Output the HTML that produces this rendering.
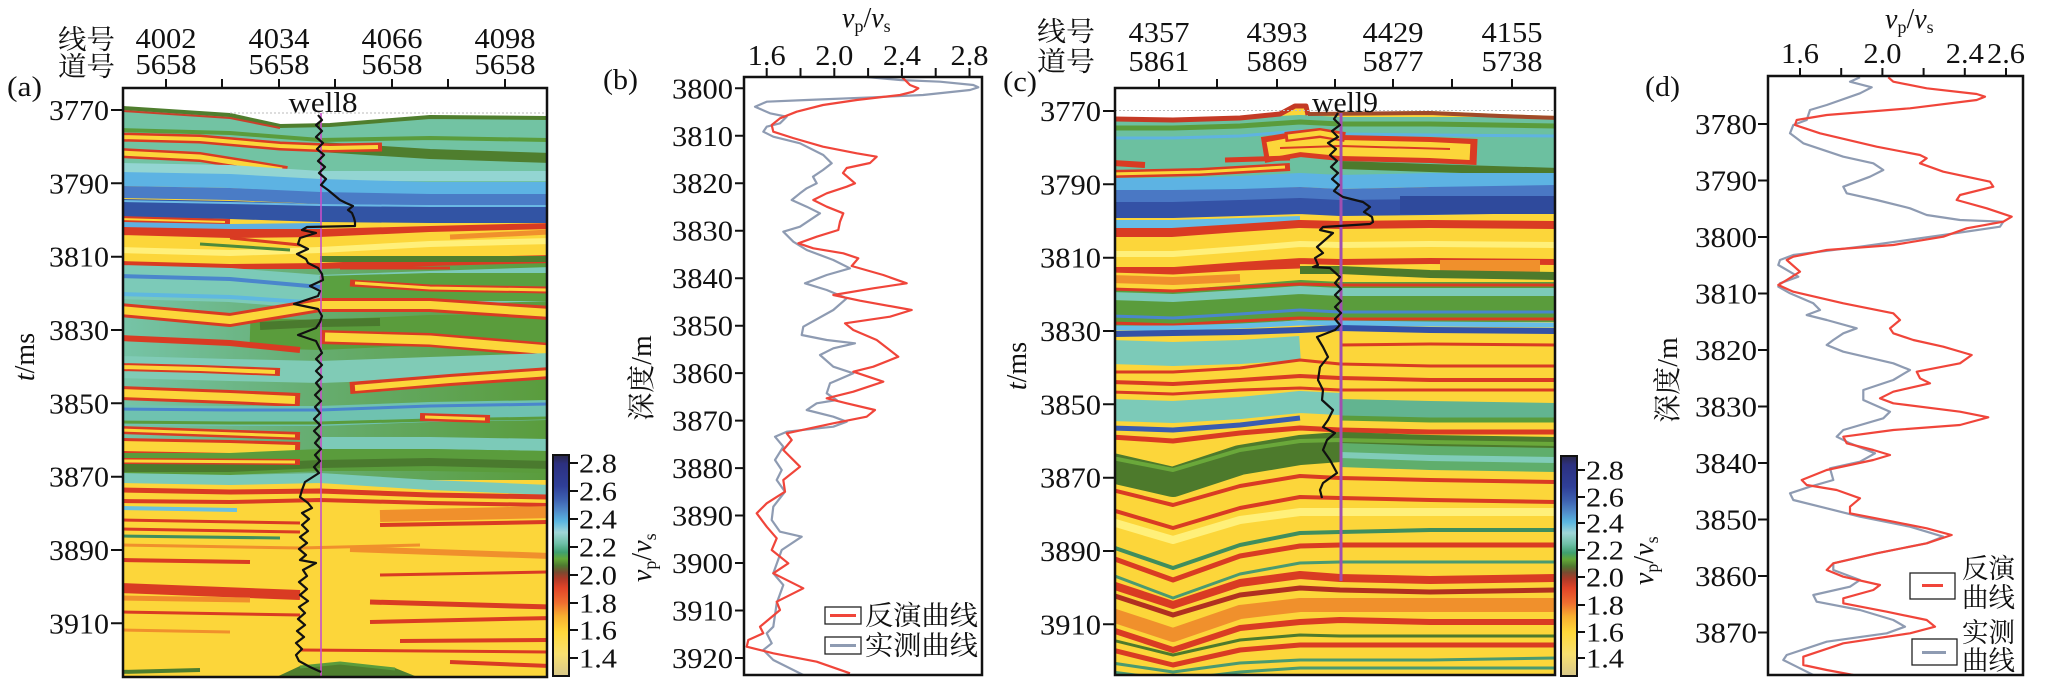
<!DOCTYPE html>
<html><head><meta charset="utf-8"><style>
html,body{margin:0;padding:0;background:#fff;}
svg{display:block;}
text{font-family:"Liberation Serif","Noto Serif CJK SC",serif;fill:#111;}
polyline{fill:none;stroke-linejoin:round;}
.tk{stroke:#111;stroke-width:2;}
.bd{fill:none;stroke:#111;stroke-width:2.5;}
</style></head><body>
<svg width="2067" height="683" viewBox="0 0 2067 683" xmlns="http://www.w3.org/2000/svg">
<defs>
<clipPath id="cA"><rect x="123" y="88" width="424" height="589"/></clipPath>
<clipPath id="cB"><rect x="744" y="77" width="238" height="598"/></clipPath>
<clipPath id="cC"><rect x="1115" y="88" width="440" height="587"/></clipPath>
<clipPath id="cD"><rect x="1768" y="76" width="255" height="599"/></clipPath>
<linearGradient id="cb" x1="0" y1="0" x2="0" y2="1">
<stop offset="0" stop-color="#2a2848"/><stop offset="0.04" stop-color="#2c3080"/>
<stop offset="0.14" stop-color="#2f3f98"/><stop offset="0.20" stop-color="#3d60b0"/>
<stop offset="0.25" stop-color="#4f88c8"/><stop offset="0.30" stop-color="#5ab6e0"/>
<stop offset="0.35" stop-color="#9fd6d8"/><stop offset="0.40" stop-color="#6fc0a8"/>
<stop offset="0.44" stop-color="#3fa070"/><stop offset="0.47" stop-color="#63a838"/>
<stop offset="0.50" stop-color="#4f7a30"/><stop offset="0.53" stop-color="#7a4a30"/>
<stop offset="0.56" stop-color="#b03a28"/><stop offset="0.60" stop-color="#e04428"/>
<stop offset="0.67" stop-color="#f07030"/><stop offset="0.73" stop-color="#f8b030"/>
<stop offset="0.80" stop-color="#ffd83a"/><stop offset="0.90" stop-color="#f8e070"/>
<stop offset="1" stop-color="#d8c88a"/>
</linearGradient>
<linearGradient id="gA" x1="0" y1="0" x2="1" y2="0">
<stop offset="0" stop-color="#76c4a8"/><stop offset="0.45" stop-color="#66ad70"/><stop offset="1" stop-color="#5a9c3c"/>
</linearGradient>
</defs>

<!-- ================= PANEL A ================= -->
<g clip-path="url(#cA)">
<rect x="123" y="88" width="424" height="589" fill="#fcd63a"/>
<rect x="120" y="262" width="430" height="218" fill="url(#gA)"/>
<polyline stroke="#72c3a3" stroke-width="72" points="120,143 230,147 320,156 430,152 550,152"/>
<polyline stroke="#5a9c3c" stroke-width="4" points="120,130 230,133 320,140 430,138 550,140"/>
<polyline stroke="#4f7e2e" stroke-width="10" points="320,147 430,154 550,158"/>
<polyline stroke="#d93b23" stroke-width="9" points="120,137 200,139 280,146 330,148 382,147"/>
<polyline stroke="#fcd63a" stroke-width="4" points="120,137 200,139 280,146 330,148 378,147"/>
<polyline stroke="#d93b23" stroke-width="10" points="120,153 200,157 287,171"/>
<polyline stroke="#fcd63a" stroke-width="5" points="120,153 200,157 282,170"/>
<polyline stroke="#93d5d2" stroke-width="10" points="120,168 230,170 320,176 430,176 550,176"/>
<polyline stroke="#5db3e3" stroke-width="14" points="120,179 230,181 320,186 430,189 550,189"/>
<polyline stroke="#4a7cc6" stroke-width="12" points="120,192 230,194 320,198 430,200 550,200"/>
<polyline stroke="#3254a4" stroke-width="18" points="120,208 230,210 320,213 430,214 550,214"/>
<polyline stroke="#6ab8e4" stroke-width="2" points="120,201 230,203 320,205 430,206 550,206"/>
<polyline stroke="#d93b23" stroke-width="6" points="120,219 230,222"/>
<polyline stroke="#fcd63a" stroke-width="2" points="120,219 225,222"/>
<polyline stroke="#5fb0e0" stroke-width="6" points="120,225 230,227 320,226"/>
<polyline stroke="#d93b23" stroke-width="40" points="120,247 230,249 320,249 430,246 550,243"/>
<polyline stroke="#fcd63a" stroke-width="26" points="120,248 230,251 320,250 430,245 550,242"/>
<polyline stroke="#fff07a" stroke-width="6" points="120,250 230,253 320,250 430,244 550,241"/>
<polyline stroke="#4d8a3a" stroke-width="3" points="200,244 290,250"/>
<polyline stroke="#d93b23" stroke-width="3" points="230,238 300,245"/>
<polyline stroke="#f0902c" stroke-width="5" points="450,237 550,232"/>
<polyline stroke="#4f7e2e" stroke-width="6" points="320,259 430,259 550,259"/>
<polyline stroke="#7ccab8" stroke-width="34" points="120,282 230,285 320,292 430,288 550,284"/>
<polyline stroke="#5aa040" stroke-width="28" points="320,290 430,287 550,287"/>
<polyline stroke="#4a86cc" stroke-width="4" points="120,276 230,279 320,287"/>
<polyline stroke="#5fb8e0" stroke-width="4" points="120,294 230,297 320,303"/>
<polyline stroke="#d93b23" stroke-width="3" points="340,268 450,268"/>
<polyline stroke="#d93b23" stroke-width="7" points="350,283 430,288 550,290"/>
<polyline stroke="#fcd63a" stroke-width="3" points="355,283 430,288 550,290"/>
<polyline stroke="#5a9c3c" stroke-width="30" points="250,333 320,335 430,330 550,330"/>
<polyline stroke="#d93b23" stroke-width="14" points="120,310 230,320 320,305 430,305 550,313"/>
<polyline stroke="#fcd63a" stroke-width="8" points="120,310 230,320 320,305 430,305 550,313"/>
<polyline stroke="#4a7a2e" stroke-width="8" points="260,326 320,323 380,322"/>
<polyline stroke="#d93b23" stroke-width="14" points="320,337 430,340 550,350"/>
<polyline stroke="#fcd63a" stroke-width="9" points="325,337 430,340 550,350"/>
<polyline stroke="#d93b23" stroke-width="6" points="120,338 230,343 300,350"/>
<polyline stroke="#80cbb6" stroke-width="22" points="120,367 230,370 320,372 430,368 550,364"/>
<polyline stroke="#d93b23" stroke-width="8" points="120,367 200,369 280,372"/>
<polyline stroke="#fcd63a" stroke-width="4" points="120,367 200,369 275,372"/>
<polyline stroke="#d93b23" stroke-width="12" points="350,388 450,380 550,373"/>
<polyline stroke="#fcd63a" stroke-width="6" points="355,388 450,380 550,373"/>
<polyline stroke="#d93b23" stroke-width="14" points="120,393 230,397 300,400"/>
<polyline stroke="#fcd63a" stroke-width="8" points="120,393 230,397 295,400"/>
<polyline stroke="#6fc2b0" stroke-width="20" points="120,415 230,416 320,416 430,412 550,410"/>
<polyline stroke="#4a86cc" stroke-width="3" points="120,409 230,410 320,410 430,406 550,404"/>
<polyline stroke="#5a9c3c" stroke-width="3" points="120,422 230,423 320,423 430,420 550,418"/>
<polyline stroke="#d93b23" stroke-width="8" points="420,417 490,419"/>
<polyline stroke="#fcd63a" stroke-width="3" points="425,417 485,419"/>
<polyline stroke="#d93b23" stroke-width="8" points="120,430 300,436"/>
<polyline stroke="#fcd63a" stroke-width="3" points="120,430 295,436"/>
<polyline stroke="#d93b23" stroke-width="16" points="120,446 230,448 300,450"/>
<polyline stroke="#fcd63a" stroke-width="10" points="120,446 230,448 295,450"/>
<polyline stroke="#7ccab8" stroke-width="12" points="320,443 430,443 550,445"/>
<polyline stroke="#5a9c3c" stroke-width="22" points="120,464 230,464 320,460 430,460 550,462"/>
<polyline stroke="#4a7a2e" stroke-width="8" points="120,468 230,468 320,464 430,462 550,465"/>
<polyline stroke="#d93b23" stroke-width="6" points="120,461 300,462"/>
<polyline stroke="#fcd63a" stroke-width="3" points="120,461 295,462"/>
<polyline stroke="#7ccab8" stroke-width="10" points="120,478 230,480 320,478 430,485 550,490"/>
<polyline stroke="#d93b23" stroke-width="5" points="120,490 230,492 320,491 430,495 550,497"/>
<polyline stroke="#d93b23" stroke-width="4" points="120,501 230,502 320,500 430,503 550,505"/>
<polyline stroke="#6ac0e0" stroke-width="4" points="120,508 237,510"/>
<polyline stroke="#d93b23" stroke-width="3" points="120,520 300,523"/>
<polyline stroke="#d93b23" stroke-width="3" points="120,529 300,532"/>
<polyline stroke="#3f8e5e" stroke-width="3" points="120,536 280,538"/>
<polyline stroke="#f0902c" stroke-width="12" points="380,516 550,512"/>
<polyline stroke="#d93b23" stroke-width="4" points="380,525 550,522"/>
<polyline stroke="#f0902c" stroke-width="6" points="350,549 550,556"/>
<polyline stroke="#f0902c" stroke-width="3" points="120,545 300,548 420,545"/>
<polyline stroke="#d93b23" stroke-width="4" points="120,560 250,562"/>
<polyline stroke="#d93b23" stroke-width="3" points="380,575 550,572"/>
<polyline stroke="#d93b23" stroke-width="10" points="120,588 300,595"/>
<polyline stroke="#f0902c" stroke-width="5" points="120,598 250,600"/>
<polyline stroke="#d93b23" stroke-width="3" points="120,612 300,615"/>
<polyline stroke="#f0902c" stroke-width="3" points="120,630 230,632"/>
<polyline stroke="#d93b23" stroke-width="5" points="370,602 550,607"/>
<polyline stroke="#d93b23" stroke-width="4" points="370,622 550,618"/>
<polyline stroke="#d93b23" stroke-width="4" points="400,641 550,640"/>
<polyline stroke="#d93b23" stroke-width="3" points="300,650 550,652"/>
<polyline stroke="#d93b23" stroke-width="4" points="450,662 550,666"/>
<polygon fill="#4e7e2e" points="270,680 300,666 340,662 395,668 425,680"/>
<polyline stroke="#5a9c3c" stroke-width="3" points="300,667 340,663 395,669"/>
<polyline stroke="#4e7e2e" stroke-width="4" points="120,672 200,670"/>
<polygon fill="#fff" points="120,85 550,85 550,117 430,116 330,124 280,125 230,114 120,106"/>
<polyline stroke="#4f7e2e" stroke-width="4" points="123,108 230,115 280,126 330,125 430,117 550,118"/>
<polyline stroke="#c8402a" stroke-width="2" points="123,111 230,118 280,128"/>
<line x1="230" y1="113" x2="547" y2="113" stroke="#bbb" stroke-width="1" stroke-dasharray="2,2"/>
<line x1="321" y1="113" x2="321" y2="677" stroke="#c850c8" stroke-width="1.6"/>
<polyline stroke="#111" stroke-width="2.2" points="318,115 322,120 316,125 322,131 316,137 323,143 317,149 324,155 318,161 325,167 319,173 326,179 321,185 328,190 334,195 340,200 346,203 353,206 348,210 352,213 354,218 355,222 355,226 307,227 302,230 316,233 300,238 298,244 308,249 297,254 306,259 308,263 318,268 322,274 323,280 310,286 320,291 318,296 294,304 318,309 322,316 320,322 316,328 298,335 316,341 319,347 322,353 316,359 322,365 316,371 322,377 316,383 321,389 315,395 321,401 315,407 320,413 314,419 320,425 314,431 320,437 315,443 321,449 315,455 320,461 314,467 319,473 305,482 302,490 300,497 308,503 312,508 302,513 309,519 302,525 308,531 300,537 307,543 299,549 306,555 300,560 316,563 303,570 307,576 299,582 307,589 300,595 308,601 299,607 305,613 298,619 305,625 297,631 304,637 296,643 302,649 296,655 299,661 310,667 321,672"/>
</g>
<rect class="bd" x="123" y="88" width="424" height="589"/>
<text x="323" y="112" font-size="28" text-anchor="middle" textLength="69" lengthAdjust="spacingAndGlyphs">well8</text>
<text x="7" y="96" font-size="28" textLength="35" lengthAdjust="spacingAndGlyphs">(a)</text>
<text x="58" y="49" font-size="27" textLength="57" lengthAdjust="spacingAndGlyphs">线号</text>
<text x="58" y="76" font-size="27" textLength="57" lengthAdjust="spacingAndGlyphs">道号</text>
<g font-size="28" text-anchor="middle">
<text x="166" y="48" textLength="61" lengthAdjust="spacingAndGlyphs">4002</text>
<text x="279" y="48" textLength="61" lengthAdjust="spacingAndGlyphs">4034</text>
<text x="392" y="48" textLength="61" lengthAdjust="spacingAndGlyphs">4066</text>
<text x="505" y="48" textLength="61" lengthAdjust="spacingAndGlyphs">4098</text>
<text x="166" y="74" textLength="61" lengthAdjust="spacingAndGlyphs">5658</text>
<text x="279" y="74" textLength="61" lengthAdjust="spacingAndGlyphs">5658</text>
<text x="392" y="74" textLength="61" lengthAdjust="spacingAndGlyphs">5658</text>
<text x="505" y="74" textLength="61" lengthAdjust="spacingAndGlyphs">5658</text>
</g>
<path class="tk" d="M166 79V88M222 79V88M279 79V88M335 79V88M392 79V88M448 79V88M505 79V88"/>
<path class="tk" d="M111 110H123M111 183.3H123M111 256.7H123M111 330H123M111 403.3H123M111 476.7H123M111 550H123M111 623.3H123"/>
<g font-size="28" text-anchor="end">
<text x="109" y="120" textLength="60" lengthAdjust="spacingAndGlyphs">3770</text>
<text x="109" y="193.3" textLength="60" lengthAdjust="spacingAndGlyphs">3790</text>
<text x="109" y="266.7" textLength="60" lengthAdjust="spacingAndGlyphs">3810</text>
<text x="109" y="340" textLength="60" lengthAdjust="spacingAndGlyphs">3830</text>
<text x="109" y="413.3" textLength="60" lengthAdjust="spacingAndGlyphs">3850</text>
<text x="109" y="486.7" textLength="60" lengthAdjust="spacingAndGlyphs">3870</text>
<text x="109" y="560" textLength="60" lengthAdjust="spacingAndGlyphs">3890</text>
<text x="109" y="633.3" textLength="60" lengthAdjust="spacingAndGlyphs">3910</text>
</g>
<text transform="translate(25,357) rotate(-90)" y="9" font-size="28" text-anchor="middle"><tspan font-style="italic">t</tspan>/ms</text>
<!-- colorbar A -->
<rect x="553" y="455" width="16" height="221" fill="url(#cb)" stroke="#111" stroke-width="2"/>
<path class="tk" d="M569 463H578M569 491H578M569 519H578M569 547H578M569 575H578M569 603H578M569 630H578M569 658H578"/>
<g font-size="27">
<text x="579" y="472.5" textLength="38" lengthAdjust="spacingAndGlyphs">2.8</text>
<text x="579" y="500.5" textLength="38" lengthAdjust="spacingAndGlyphs">2.6</text>
<text x="579" y="528.5" textLength="38" lengthAdjust="spacingAndGlyphs">2.4</text>
<text x="579" y="556.5" textLength="38" lengthAdjust="spacingAndGlyphs">2.2</text>
<text x="579" y="584.5" textLength="38" lengthAdjust="spacingAndGlyphs">2.0</text>
<text x="579" y="612.5" textLength="38" lengthAdjust="spacingAndGlyphs">1.8</text>
<text x="579" y="639.5" textLength="38" lengthAdjust="spacingAndGlyphs">1.6</text>
<text x="579" y="667.5" textLength="38" lengthAdjust="spacingAndGlyphs">1.4</text>
</g>
<text transform="translate(643,557) rotate(-90)" x="-25" y="8" font-size="28"><tspan font-style="italic">v</tspan><tspan font-size="18" dy="5">p</tspan><tspan dy="-5">/</tspan><tspan font-style="italic">v</tspan><tspan font-size="18" dy="5">s</tspan></text>

<!-- ================= PANEL B ================= -->
<text x="603" y="89" font-size="28" textLength="35" lengthAdjust="spacingAndGlyphs">(b)</text>
<text x="842" y="27" font-size="28"><tspan font-style="italic">v</tspan><tspan font-size="18" dy="5">p</tspan><tspan dy="-5">/</tspan><tspan font-style="italic">v</tspan><tspan font-size="18" dy="5">s</tspan></text>
<g font-size="28" text-anchor="middle">
<text x="766.7" y="65" textLength="38" lengthAdjust="spacingAndGlyphs">1.6</text>
<text x="834.3" y="65" textLength="38" lengthAdjust="spacingAndGlyphs">2.0</text>
<text x="901.9" y="65" textLength="38" lengthAdjust="spacingAndGlyphs">2.4</text>
<text x="969.5" y="65" textLength="38" lengthAdjust="spacingAndGlyphs">2.8</text>
</g>
<path class="tk" d="M766.7 68V77M800.5 68V77M834.3 68V77M868.1 68V77M901.9 68V77M935.7 68V77M969.5 68V77"/>
<path class="tk" d="M735 88.3H744M735 135.8H744M735 183.2H744M735 230.7H744M735 278.2H744M735 325.7H744M735 373.1H744M735 420.6H744M735 468.1H744M735 515.5H744M735 563H744M735 610.5H744M735 658H744"/>
<g font-size="28" text-anchor="end">
<text x="733" y="98.3" textLength="61" lengthAdjust="spacingAndGlyphs">3800</text>
<text x="733" y="145.8" textLength="61" lengthAdjust="spacingAndGlyphs">3810</text>
<text x="733" y="193.2" textLength="61" lengthAdjust="spacingAndGlyphs">3820</text>
<text x="733" y="240.7" textLength="61" lengthAdjust="spacingAndGlyphs">3830</text>
<text x="733" y="288.2" textLength="61" lengthAdjust="spacingAndGlyphs">3840</text>
<text x="733" y="335.7" textLength="61" lengthAdjust="spacingAndGlyphs">3850</text>
<text x="733" y="383.1" textLength="61" lengthAdjust="spacingAndGlyphs">3860</text>
<text x="733" y="430.6" textLength="61" lengthAdjust="spacingAndGlyphs">3870</text>
<text x="733" y="478.1" textLength="61" lengthAdjust="spacingAndGlyphs">3880</text>
<text x="733" y="525.5" textLength="61" lengthAdjust="spacingAndGlyphs">3890</text>
<text x="733" y="573" textLength="61" lengthAdjust="spacingAndGlyphs">3900</text>
<text x="733" y="620.5" textLength="61" lengthAdjust="spacingAndGlyphs">3910</text>
<text x="733" y="668" textLength="61" lengthAdjust="spacingAndGlyphs">3920</text>
</g>
<text transform="translate(642,378) rotate(-90)" y="9" font-size="28" text-anchor="middle">深度/m</text>
<g clip-path="url(#cB)">
<polyline stroke="#8e9bb2" stroke-width="2.2" points="866.7,77 900,80 940,81.7 973.3,85 978.3,87.3 970,90 923,95 873,97.3 806.7,100 766.7,101.7 755,106.7 770,113.3 786.7,116.7 780,123.3 766.7,126.7 763.3,131.7 773.3,136.7 800,143.3 823.3,155 831.7,163.3 823,170 813,176.7 816.7,183.3 806.7,188.3 800,193.3 791.7,200 806.7,206.7 820,213.3 800,226.7 783.3,231.7 793.3,241.7 806.7,250 833.3,260 850,268.3 826.7,275 805,283.3 826.7,290 846.7,298.3 833.3,310 803.3,326.7 801.7,335 826.7,340 855,343.3 833.3,348.3 820,355 833.3,366.7 853.3,373.3 830,383.3 826.7,393.3 836.7,400 816.7,403.3 806.7,410 833.3,416.7 846.7,421.7 833.3,426.7 786.7,431.7 775,436.7 783.3,446.7 775,460 781.7,470 776.7,480 785,491.7 773.3,506.7 771.7,520 780,531.7 801.7,536.7 781.7,550 773.3,573.3 783.3,585 776.7,603.3 773.3,626.7 766.7,633.3 771.7,643.3 763.3,650 773.3,660 803.3,675"/>
<polyline stroke="#f0453a" stroke-width="2.2" points="901.7,77 906.7,81.7 910,85 918.3,88.3 913,91.7 900,95 856.7,100 823,105 796.7,111.7 780,118.3 771.7,125 773.3,131.7 793,138 823,146.7 856.7,153.3 876.7,156.7 870,163 846.7,168 843,173 855,183.3 846.7,186.7 826.7,193.3 813.3,200 826.7,206.7 843.3,213.3 840,221.7 838.3,230 816.7,236.7 798.3,243.3 813.3,248.3 843.3,253.3 858.3,258.3 851.7,266 883.3,275 906.7,283.3 873.3,288.3 833.3,295 860,300.7 911.7,310 890,316.7 845,323.3 853.3,330 876.7,340 898.3,356.7 873.3,366.7 853.3,371.7 883.3,381.7 853.3,391.7 826.7,398.3 846.7,403.3 875,410 866.7,416.7 833.3,423.3 786.7,433.3 791.7,440 783.3,450 800,466.7 783.3,480 785,491.7 766.7,503.3 756.7,513.3 766.7,526.7 776.7,538.3 771.7,550 788.3,563.3 773.3,573.3 803.3,588.3 776.7,601.7 780,610 760,626.7 763.3,633.3 748.3,640 746.7,646.7 773.3,653.3 816.7,661.7 850,673.3"/>
</g>
<rect class="bd" x="744" y="77" width="238" height="598"/>
<rect x="825" y="607" width="36" height="17" fill="#fff" stroke="#222" stroke-width="1.3"/>
<line x1="830" y1="615.5" x2="856" y2="615.5" stroke="#f0453a" stroke-width="3"/>
<rect x="825" y="637" width="36" height="17" fill="#fff" stroke="#222" stroke-width="1.3"/>
<line x1="830" y1="645.5" x2="856" y2="645.5" stroke="#8e9bb2" stroke-width="3"/>
<text x="865" y="625" font-size="27" textLength="113" lengthAdjust="spacingAndGlyphs">反演曲线</text>
<text x="865" y="655" font-size="27" textLength="113" lengthAdjust="spacingAndGlyphs">实测曲线</text>

<!-- ================= PANEL C ================= -->
<g clip-path="url(#cC)">
<rect x="1115" y="88" width="440" height="587" fill="#fcd63a"/>
<polyline stroke="#6cc0a0" stroke-width="62" points="1112,150 1173,150 1240,149 1300,146 1340,148 1430,148 1558,148"/>
<polyline stroke="#5a9c3c" stroke-width="5" points="1112,128 1173,128 1240,126 1300,122 1340,124 1430,124 1558,126"/>
<polyline stroke="#5fb3e0" stroke-width="3" points="1112,138 1173,138 1240,136 1300,131 1340,134 1430,135 1558,136"/>
<polyline stroke="#4d7a2c" stroke-width="8" points="1340,165 1430,168 1558,172"/>
<polyline stroke="#d93b23" stroke-width="26" points="1263,150 1300,144 1340,148 1430,150 1477,152"/>
<polyline stroke="#fcd63a" stroke-width="16" points="1268,150 1300,144 1340,148 1430,150 1470,152"/>
<polyline stroke="#d93b23" stroke-width="2" points="1280,148 1340,146 1450,149"/>
<polyline stroke="#d93b23" stroke-width="10" points="1285,137 1320,133 1345,137"/>
<polyline stroke="#fcd63a" stroke-width="5" points="1288,137 1320,133 1342,137"/>
<polyline stroke="#d93b23" stroke-width="6" points="1112,163 1145,165"/>
<polyline stroke="#d93b23" stroke-width="8" points="1112,174 1200,172 1290,167"/>
<polyline stroke="#fcd63a" stroke-width="3" points="1112,174 1200,172 1285,167"/>
<polyline stroke="#d93b23" stroke-width="5" points="1225,160 1290,158"/>
<polyline stroke="#5db3e3" stroke-width="14" points="1112,185 1173,185 1240,183 1300,180 1340,182 1430,180 1558,180"/>
<polyline stroke="#4a78c4" stroke-width="14" points="1112,197 1173,197 1240,196 1300,194 1340,196 1430,194 1558,192"/>
<polyline stroke="#3452a6" stroke-width="16" points="1112,210 1173,210 1240,208 1300,206 1340,208 1430,207 1558,205"/>
<polyline stroke="#2f4a9c" stroke-width="18" points="1400,205 1558,205"/>
<polyline stroke="#66bde6" stroke-width="8" points="1112,224 1173,224 1240,222 1300,220"/>
<polyline stroke="#d93b23" stroke-width="44" points="1112,250 1173,250 1240,246 1300,242 1340,243 1430,242 1558,243"/>
<polyline stroke="#fcd63a" stroke-width="30" points="1112,252 1173,252 1240,247 1300,243 1340,244 1430,243 1558,244"/>
<polyline stroke="#fff07a" stroke-width="6" points="1112,254 1173,254 1240,249 1300,244 1340,245 1430,244 1558,245"/>
<polyline stroke="#d93b23" stroke-width="5" points="1112,270 1173,272 1240,268 1300,266"/>
<polyline stroke="#f0902c" stroke-width="8" points="1112,279 1173,281 1240,278"/>
<polyline stroke="#f0902c" stroke-width="12" points="1440,266 1540,266"/>
<polyline stroke="#4d7a2c" stroke-width="8" points="1300,270 1340,270 1430,274 1558,276"/>
<polyline stroke="#5a9c3c" stroke-width="40" points="1112,308 1173,310 1240,305 1300,300 1340,302 1430,302 1558,302"/>
<polyline stroke="#7ccab8" stroke-width="8" points="1112,296 1173,298 1240,294 1300,290 1340,292 1430,292 1558,292"/>
<polyline stroke="#4a86cc" stroke-width="3" points="1112,316 1173,318 1240,314 1300,310 1340,312 1430,312 1558,312"/>
<polyline stroke="#d93b23" stroke-width="3" points="1112,289 1173,291 1240,287 1300,284 1340,285 1430,285 1558,285"/>
<polyline stroke="#d93b23" stroke-width="3" points="1112,323 1173,325 1240,321 1300,318 1340,319 1430,319 1558,319"/>
<polyline stroke="#66bde6" stroke-width="5" points="1112,328 1173,328 1240,326 1300,323 1340,323 1430,324 1558,325"/>
<polyline stroke="#3452a6" stroke-width="6" points="1112,334 1173,333 1240,332 1300,330 1340,328 1430,330 1558,331"/>
<polyline stroke="#7ccab8" stroke-width="24" points="1112,352 1173,354 1240,352 1300,348"/>
<polyline stroke="#d93b23" stroke-width="3" points="1340,345 1430,344 1558,345"/>
<polyline stroke="#d93b23" stroke-width="3" points="1112,372 1173,372 1240,368 1300,360 1340,364 1430,366 1558,366"/>
<polyline stroke="#d93b23" stroke-width="4" points="1112,382 1173,384 1240,380 1300,376 1340,378 1430,380 1558,380"/>
<polyline stroke="#d93b23" stroke-width="3" points="1112,392 1173,394 1240,390 1300,388 1340,390 1430,390 1558,390"/>
<polyline stroke="#7ccab8" stroke-width="22" points="1112,410 1173,412 1240,408 1300,402 1340,404"/>
<polyline stroke="#62b490" stroke-width="18" points="1340,408 1430,410 1558,412"/>
<polyline stroke="#5a9c3c" stroke-width="5" points="1340,418 1430,420 1558,420"/>
<polyline stroke="#3a5cb0" stroke-width="5" points="1112,428 1173,430 1240,425 1300,418"/>
<polyline stroke="#d93b23" stroke-width="5" points="1112,437 1173,441 1240,433 1300,428 1340,430 1430,432 1558,432"/>
<polyline stroke="#4d7a2c" stroke-width="30" points="1112,468 1173,482 1240,460 1300,450 1340,447 1430,450 1558,452"/>
<polyline stroke="#6aa83a" stroke-width="4" points="1112,458 1173,470 1240,450 1300,441 1340,440 1430,442 1558,444"/>
<polyline stroke="#5fae6c" stroke-width="24" points="1340,455 1430,458 1558,460"/>
<polyline stroke="#80ccb8" stroke-width="6" points="1340,455 1430,458 1558,460"/>
<polyline stroke="#d93b23" stroke-width="4" points="1112,490 1173,505 1240,486 1300,476 1340,478 1430,480 1558,482"/>
<polyline stroke="#d93b23" stroke-width="4" points="1112,510 1173,528 1240,508 1300,497 1340,498 1430,500 1558,502"/>
<polyline stroke="#fff07a" stroke-width="8" points="1112,522 1173,540 1240,520 1300,512 1340,512 1430,512 1558,512"/>
<polyline stroke="#3f8e5e" stroke-width="4" points="1112,547 1173,568 1240,545 1300,533 1340,532 1430,530 1558,530"/>
<polyline stroke="#d93b23" stroke-width="5" points="1112,558 1173,580 1240,556 1300,546 1340,545 1430,545 1558,545"/>
<polyline stroke="#4a9a70" stroke-width="3" points="1112,575 1173,598 1240,574 1300,563 1340,562 1430,562 1558,562"/>
<polyline stroke="#d93b23" stroke-width="8" points="1112,585 1173,605 1240,583 1300,575 1340,578 1430,580 1558,578"/>
<polyline stroke="#b03020" stroke-width="5" points="1112,595 1173,615 1240,595 1300,588 1340,590 1430,592 1558,590"/>
<polyline stroke="#f0902c" stroke-width="14" points="1112,615 1173,635 1240,612 1300,605 1340,605 1430,605 1558,605"/>
<polyline stroke="#d93b23" stroke-width="6" points="1112,630 1173,650 1240,628 1300,622 1340,620 1430,622 1558,622"/>
<polyline stroke="#4d7a2c" stroke-width="3" points="1112,640 1173,655 1240,640 1300,635 1340,636 1430,636 1558,636"/>
<polyline stroke="#d93b23" stroke-width="5" points="1112,650 1173,665 1240,650 1300,645 1340,645 1430,645 1558,645"/>
<polyline stroke="#4a9a70" stroke-width="3" points="1112,663 1173,672 1240,663 1300,660 1340,660 1430,660 1558,658"/>
<polyline stroke="#4a9a70" stroke-width="3" points="1112,672 1173,680 1240,672 1300,668 1340,668 1430,668 1558,668"/>
<polygon fill="#fff" points="1112,85 1558,85 1558,116 1500,114 1430,111 1340,112 1308,112 1306,104 1295,104 1280,112 1240,116 1173,118 1112,117"/>
<polyline stroke="#c43a25" stroke-width="5" points="1112,119 1173,120 1240,118 1280,114 1295,106 1306,106 1308,115"/>
<polyline stroke="#a04a2a" stroke-width="4" points="1308,114 1430,113 1500,116 1558,118"/>
<line x1="1115" y1="110.5" x2="1555" y2="110.5" stroke="#bbb" stroke-width="1" stroke-dasharray="2,2"/>
<line x1="1341" y1="113" x2="1341" y2="581" stroke="#a04fb0" stroke-width="3"/>
<polyline stroke="#111" stroke-width="2.2" points="1338,113 1334,119 1340,125 1332,131 1338,137 1328,143 1336,149 1330,155 1337,161 1331,167 1338,173 1332,179 1339,185 1334,191 1343,197 1355,200 1363,202 1370,207 1364,212 1372,217 1373,222 1370,224 1323,227 1320,230 1333,233 1325,240 1317,247 1323,253 1315,258 1318,265 1313,267 1330,268 1340,277 1335,283 1341,289 1335,295 1341,301 1335,307 1341,313 1335,319 1340,325 1335,330 1317,337 1323,347 1328,357 1320,367 1318,380 1323,390 1322,400 1333,410 1328,420 1323,427 1335,433 1327,440 1323,450 1330,460 1337,473 1323,483 1320,490 1322,498"/>
</g>
<rect class="bd" x="1115" y="88" width="440" height="587"/>
<text x="1345" y="112" font-size="28" text-anchor="middle" textLength="66" lengthAdjust="spacingAndGlyphs">well9</text>
<text x="1003" y="91" font-size="28" textLength="34" lengthAdjust="spacingAndGlyphs">(c)</text>
<text x="1037" y="41" font-size="27" textLength="58" lengthAdjust="spacingAndGlyphs">线号</text>
<text x="1037" y="71" font-size="27" textLength="58" lengthAdjust="spacingAndGlyphs">道号</text>
<g font-size="28" text-anchor="middle">
<text x="1159" y="42" textLength="61" lengthAdjust="spacingAndGlyphs">4357</text>
<text x="1277" y="42" textLength="61" lengthAdjust="spacingAndGlyphs">4393</text>
<text x="1393" y="42" textLength="61" lengthAdjust="spacingAndGlyphs">4429</text>
<text x="1512" y="42" textLength="61" lengthAdjust="spacingAndGlyphs">4155</text>
<text x="1159" y="71" textLength="61" lengthAdjust="spacingAndGlyphs">5861</text>
<text x="1277" y="71" textLength="61" lengthAdjust="spacingAndGlyphs">5869</text>
<text x="1393" y="71" textLength="61" lengthAdjust="spacingAndGlyphs">5877</text>
<text x="1512" y="71" textLength="61" lengthAdjust="spacingAndGlyphs">5738</text>
</g>
<path class="tk" d="M1159 79V88M1217 79V88M1277 79V88M1335 79V88M1393 79V88M1452 79V88M1512 79V88"/>
<path class="tk" d="M1103 111H1115M1103 184.3H1115M1103 257.7H1115M1103 331H1115M1103 404.3H1115M1103 477.7H1115M1103 551H1115M1103 624.3H1115"/>
<g font-size="28" text-anchor="end">
<text x="1101" y="121" textLength="61" lengthAdjust="spacingAndGlyphs">3770</text>
<text x="1101" y="194.3" textLength="61" lengthAdjust="spacingAndGlyphs">3790</text>
<text x="1101" y="267.7" textLength="61" lengthAdjust="spacingAndGlyphs">3810</text>
<text x="1101" y="341" textLength="61" lengthAdjust="spacingAndGlyphs">3830</text>
<text x="1101" y="414.3" textLength="61" lengthAdjust="spacingAndGlyphs">3850</text>
<text x="1101" y="487.7" textLength="61" lengthAdjust="spacingAndGlyphs">3870</text>
<text x="1101" y="561" textLength="61" lengthAdjust="spacingAndGlyphs">3890</text>
<text x="1101" y="634.3" textLength="61" lengthAdjust="spacingAndGlyphs">3910</text>
</g>
<text transform="translate(1017,366) rotate(-90)" y="9" font-size="28" text-anchor="middle"><tspan font-style="italic">t</tspan>/ms</text>
<!-- colorbar C -->
<rect x="1561" y="456" width="16" height="220" fill="url(#cb)" stroke="#111" stroke-width="2"/>
<path class="tk" d="M1577 470H1585M1577 497H1585M1577 523H1585M1577 550H1585M1577 577H1585M1577 605H1585M1577 632H1585M1577 658H1585"/>
<g font-size="27">
<text x="1586" y="479.5" textLength="38" lengthAdjust="spacingAndGlyphs">2.8</text>
<text x="1586" y="506.5" textLength="38" lengthAdjust="spacingAndGlyphs">2.6</text>
<text x="1586" y="532.5" textLength="38" lengthAdjust="spacingAndGlyphs">2.4</text>
<text x="1586" y="559.5" textLength="38" lengthAdjust="spacingAndGlyphs">2.2</text>
<text x="1586" y="586.5" textLength="38" lengthAdjust="spacingAndGlyphs">2.0</text>
<text x="1586" y="614.5" textLength="38" lengthAdjust="spacingAndGlyphs">1.8</text>
<text x="1586" y="641.5" textLength="38" lengthAdjust="spacingAndGlyphs">1.6</text>
<text x="1586" y="667.5" textLength="38" lengthAdjust="spacingAndGlyphs">1.4</text>
</g>
<text transform="translate(1645,560) rotate(-90)" x="-25" y="8" font-size="28"><tspan font-style="italic">v</tspan><tspan font-size="18" dy="5">p</tspan><tspan dy="-5">/</tspan><tspan font-style="italic">v</tspan><tspan font-size="18" dy="5">s</tspan></text>

<!-- ================= PANEL D ================= -->
<text x="1645" y="96" font-size="28" textLength="35" lengthAdjust="spacingAndGlyphs">(d)</text>
<text x="1885" y="28" font-size="28"><tspan font-style="italic">v</tspan><tspan font-size="18" dy="5">p</tspan><tspan dy="-5">/</tspan><tspan font-style="italic">v</tspan><tspan font-size="18" dy="5">s</tspan></text>
<g font-size="28" text-anchor="middle">
<text x="1800" y="63" textLength="38" lengthAdjust="spacingAndGlyphs">1.6</text>
<text x="1882.4" y="63" textLength="38" lengthAdjust="spacingAndGlyphs">2.0</text>
<text x="1964.8" y="63" textLength="38" lengthAdjust="spacingAndGlyphs">2.4</text>
<text x="2006" y="63" textLength="38" lengthAdjust="spacingAndGlyphs">2.6</text>
</g>
<path class="tk" d="M1800 68V76M1841.2 68V76M1882.4 68V76M1923.6 68V76M1964.8 68V76M2006 68V76"/>
<path class="tk" d="M1758 124H1768M1758 180.5H1768M1758 237H1768M1758 293.5H1768M1758 350H1768M1758 406.5H1768M1758 463H1768M1758 519.5H1768M1758 576H1768M1758 632.5H1768"/>
<g font-size="28" text-anchor="end">
<text x="1757" y="134" textLength="62" lengthAdjust="spacingAndGlyphs">3780</text>
<text x="1757" y="190.5" textLength="62" lengthAdjust="spacingAndGlyphs">3790</text>
<text x="1757" y="247" textLength="62" lengthAdjust="spacingAndGlyphs">3800</text>
<text x="1757" y="303.5" textLength="62" lengthAdjust="spacingAndGlyphs">3810</text>
<text x="1757" y="360" textLength="62" lengthAdjust="spacingAndGlyphs">3820</text>
<text x="1757" y="416.5" textLength="62" lengthAdjust="spacingAndGlyphs">3830</text>
<text x="1757" y="473" textLength="62" lengthAdjust="spacingAndGlyphs">3840</text>
<text x="1757" y="529.5" textLength="62" lengthAdjust="spacingAndGlyphs">3850</text>
<text x="1757" y="586" textLength="62" lengthAdjust="spacingAndGlyphs">3860</text>
<text x="1757" y="642.5" textLength="62" lengthAdjust="spacingAndGlyphs">3870</text>
</g>
<text transform="translate(1668,380) rotate(-90)" y="9" font-size="28" text-anchor="middle">深度/m</text>
<g clip-path="url(#cD)">
<polyline stroke="#8e9bb2" stroke-width="2.2" points="1860,77.3 1850,81.7 1871.7,87.3 1860,93.3 1826.7,105 1810,110 1806.7,120 1793.3,125 1790,133.3 1803.3,143.3 1843.3,156.7 1873.3,163.3 1883.3,170 1870,176.7 1843.3,186.7 1846.7,193.3 1876.7,200 1910,208.3 1926.7,215 1960,220 2003.3,221.7 2000,226.7 1943.3,235 1860,246.7 1793.3,255 1780,260 1778.3,265 1798.3,276.7 1780,283.3 1778.3,286.7 1790,293.3 1813.3,303.3 1820,310 1806.7,315 1826.7,320 1856.7,328.3 1843.3,333.3 1833.3,340 1826.7,345 1843.3,351.7 1893.3,363.3 1910,370 1893.3,380 1863.3,390 1863.3,400 1890,411.7 1883.3,418.3 1843.3,430 1836.7,436.7 1850,443.3 1875,453.3 1860,461.7 1830,468.3 1833.3,480 1810,486.7 1790,493.3 1793.3,500 1826.7,508.3 1860,516.7 1910,526.7 1943.3,536.7 1926.7,543.3 1876.7,553.3 1833.3,563.3 1833.3,570 1860,580 1850,586.7 1813.3,595 1816.7,601.7 1860,610 1893.3,620 1905,626.7 1886.7,633.3 1826.7,641.7 1786.7,655 1783.3,660 1796.7,666.7 1813.3,675"/>
<polyline stroke="#f0453a" stroke-width="2.2" points="1888.3,77.3 1893.3,81.7 1926.7,88.3 1976.7,94 1985,96.7 1976.7,100 1910,108.3 1826.7,115 1796.7,120 1795,125 1820,133.3 1876.7,146.7 1920,155 1926.7,158.3 1920,163.3 1943.3,171.7 1990,181.7 1993.3,186.7 1960,195 1956.7,200 1986.7,208.3 2011.7,216.7 2003.3,221.7 1966.7,228.3 1943.3,236.7 1893.3,245 1826.7,250 1793.3,256.7 1786.7,260 1800,271.7 1786.7,280 1778.3,285 1793.3,291.7 1843.3,303.3 1893.3,313.3 1900,320 1890,328.3 1893.3,333.3 1913.3,340 1943.3,346.7 1971.7,355 1960,363.3 1916.7,371.7 1920,378.3 1930,383.3 1893.3,391.7 1880,398.3 1893.3,403.3 1960,411.7 1988.3,417.3 1960,425 1893.3,430 1843.3,436.7 1846.7,443.3 1873.3,450 1890,455 1873.3,460 1826.7,470 1801.7,480 1806.7,485 1836.7,490 1860,498.3 1850,506.7 1850,513.3 1893.3,521.7 1926.7,528.3 1951.7,535 1926.7,543.3 1876.7,553.3 1833.3,563.3 1826.7,570 1843.3,576.7 1880,585 1873.3,590 1843.3,598.3 1843.3,603.3 1886.7,611.7 1926.7,620 1935,626.7 1910,633.3 1843.3,643.3 1803.3,656.7 1803.3,665 1826.7,670 1853.3,675"/>
</g>
<rect class="bd" x="1768" y="76" width="255" height="599"/>
<rect x="1910" y="573" width="45" height="26" fill="#fff" stroke="#222" stroke-width="1.3"/>
<line x1="1922" y1="585.5" x2="1943" y2="585.5" stroke="#f0453a" stroke-width="3"/>
<rect x="1912" y="639" width="45" height="26" fill="#fff" stroke="#222" stroke-width="1.3"/>
<line x1="1922" y1="652.5" x2="1946" y2="652.5" stroke="#8e9bb2" stroke-width="3"/>
<g font-size="27">
<text x="1962" y="578" textLength="53" lengthAdjust="spacingAndGlyphs">反演</text>
<text x="1962" y="607" textLength="53" lengthAdjust="spacingAndGlyphs">曲线</text>
<text x="1962" y="642" textLength="53" lengthAdjust="spacingAndGlyphs">实测</text>
<text x="1962" y="670" textLength="53" lengthAdjust="spacingAndGlyphs">曲线</text>
</g>
</svg>
</body></html>
